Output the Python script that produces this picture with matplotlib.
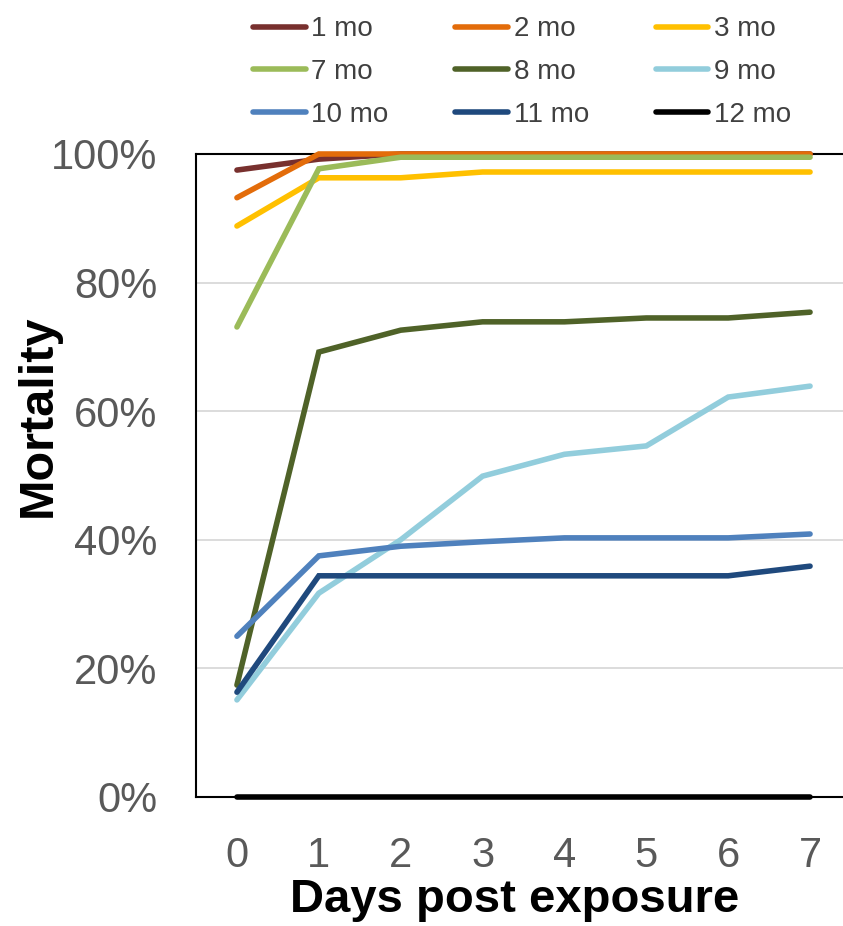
import numpy as np
import matplotlib
matplotlib.use('Agg')
import matplotlib.pyplot as plt
import matplotlib.ticker as ticker

plt.rcParams['font.family'] = ['Liberation Sans', 'DejaVu Sans']

# dias apos exposicao
days = [0, 1, 2, 3, 4, 5, 6, 7]

# mortalidade (%) de cada idade
mo1 = [97.5, 99.2, 100, 100, 100, 100, 100, 100]
mo2 = [93.2, 100, 100, 100, 100, 100, 100, 100]
mo3 = [88.8, 96.3, 96.3, 97.2, 97.2, 97.2, 97.2, 97.2]
mo7 = [73.1, 97.7, 99.5, 99.5, 99.5, 99.5, 99.5, 99.5]
mo8 = [17.4, 69.2, 72.6, 73.9, 73.9, 74.5, 74.5, 75.4]
mo9 = [15.1, 31.7, 40.0, 49.9, 53.3, 54.6, 62.2, 63.9]
mo10 = [25.0, 37.5, 39.0, 39.7, 40.3, 40.3, 40.3, 40.9]
mo11 = [16.3, 34.4, 34.4, 34.4, 34.4, 34.4, 34.4, 35.9]
mo12 = [0, 0, 0, 0, 0, 0, 0, 0]

labels = ['1 mo', '2 mo', '3 mo', '7 mo', '8 mo', '9 mo', '10 mo', '11 mo', '12 mo']
series = [mo1, mo2, mo3, mo7, mo8, mo9, mo10, mo11, mo12]
colors = ['#78302E', '#E36C0A', '#FFC000', '#9BBB59', '#4F6228',
          '#92CDDC', '#4F81BD', '#1F497D', '#000000']

fig = plt.figure(figsize=(8.43, 9.26), dpi=100)
ax = fig.add_axes([196/843, 1 - 797/926, (851 - 196)/843, 643/926])

lines = []
for vals, lab, col in zip(series, labels, colors):
    l, = ax.plot(days, np.array(vals)/100.0, color=col, label=lab, linewidth=4.0,
                 solid_capstyle='round', solid_joinstyle='miter', clip_on=False, zorder=5)
    lines.append(l)

ax.set_xlim(-0.5, 7.5)
ax.set_ylim(0, 1)
ax.yaxis.set_major_locator(ticker.MultipleLocator(0.2))
ax.yaxis.set_major_formatter(ticker.PercentFormatter(1.0, decimals=0))
ax.set_xticks(days)

ax.grid(axis='y', color='#D9D9D9', linewidth=1.3, zorder=0)
ax.set_axisbelow(True)
for s in ['top', 'left', 'bottom', 'right']:
    ax.spines[s].set_color('black')
    ax.spines[s].set_linewidth(1.5)

ax.tick_params(axis='both', length=0, labelsize=30, labelcolor='#595959')
ax.tick_params(axis='y', pad=28)
ax.tick_params(axis='x', pad=28)

fig.text(515/843, 1 - 912/926, 'Days post exposure', fontsize=34, fontweight='bold',
         ha='center', va='baseline')
fig.text(38/843, 1 - 416/926, 'Mortality', fontsize=35, fontweight='bold',
         ha='center', va='center', rotation=90)

# legenda em linhas (matplotlib preenche por coluna)
order = [0, 3, 6, 1, 4, 7, 2, 5, 8]
leg = fig.legend([lines[i] for i in order], [labels[i] for i in order],
                 loc='center', bbox_to_anchor=(522/843, 1 - 72/926), ncol=3,
                 frameon=False, fontsize=20, handlelength=1.9, handletextpad=0.2,
                 columnspacing=2.4, labelspacing=0.6, borderpad=0)
for t in leg.get_texts():
    t.set_color('#404040')
for h in leg.get_lines():
    h.set_linewidth(4.0)
    h.set_solid_capstyle('round')

fig.savefig('out.png', dpi=100)
